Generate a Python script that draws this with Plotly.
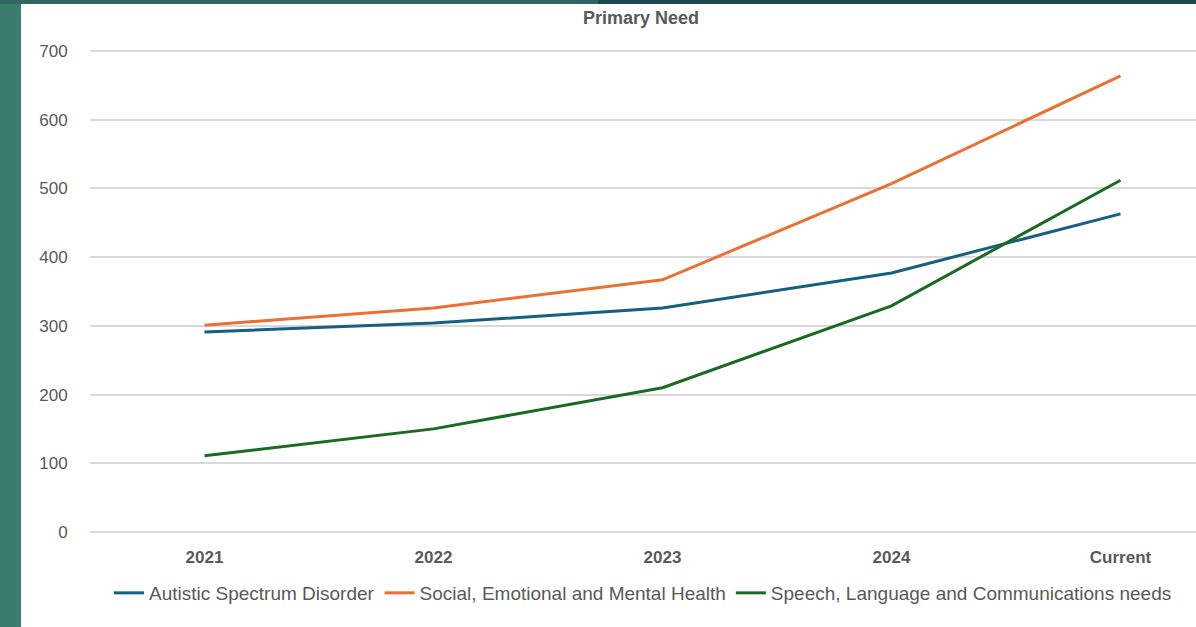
import plotly.graph_objects as go

categories = ["2021", "2022", "2023", "2024", "Current"]
autistic = [291, 304, 326, 377, 463]
semh = [301, 326, 367, 507, 664]
slcn = [111, 150, 210, 329, 512]

series_names = [
    "Autistic Spectrum Disorder",
    "Social, Emotional and Mental Health",
    "Speech, Language and Communications needs",
]
colors = ["#156082", "#E97132", "#196B24"]

W, H = 1196, 627
L, R, T, B = 90, 0, 49, 93
pw = W - L - R
ph = H - T - B

fig = go.Figure()
for name, vals, col in zip(series_names, [autistic, semh, slcn], colors):
    fig.add_trace(go.Scatter(
        x=categories, y=vals, mode="lines", name=name,
        line=dict(color=col, width=3),
    ))

def px_x(x):
    return (x - L) / pw

def px_y(y):
    return 1 - (y - T) / ph

shapes = [
    dict(type="rect", xref="paper", yref="paper", x0=px_x(0), x1=px_x(21),
         y0=px_y(H), y1=px_y(0), fillcolor="#3c7c6f", line=dict(width=0), layer="below"),
    dict(type="rect", xref="paper", yref="paper", x0=px_x(0), x1=px_x(W / 2),
         y0=px_y(4), y1=px_y(0), fillcolor="#2f6562", line=dict(width=0), layer="below"),
    dict(type="rect", xref="paper", yref="paper", x0=px_x(W / 2), x1=px_x(W),
         y0=px_y(4), y1=px_y(0), fillcolor="#1f4752", line=dict(width=0), layer="below"),
]

font_fam = "Liberation Sans, Arial, sans-serif"
fig.update_layout(
    width=W, height=H,
    margin=dict(l=L, r=R, t=T, b=B, pad=0),
    paper_bgcolor="white", plot_bgcolor="white",
    shapes=shapes,
    title=dict(text="<b>Primary Need</b>", x=px_x(641), xref="paper", xanchor="center",
               y=1 - 18 / H, yref="container", yanchor="middle",
               font=dict(family=font_fam, size=18, color="#595959")),
    font=dict(family=font_fam, color="#595959"),
    showlegend=True,
    legend=dict(orientation="h", x=0.5, xanchor="center", y=px_y(593), yanchor="middle",
                font=dict(family=font_fam, size=19, color="#595959"),
                itemwidth=30, tracegroupgap=0, bgcolor="rgba(0,0,0,0)"),
    xaxis=dict(range=[-0.5, -0.5 + pw / 229.0], showgrid=False, zeroline=False,
               showline=False, ticks="outside", ticklen=8, tickcolor="rgba(0,0,0,0)",
               tickfont=dict(family=font_fam, size=17, color="#595959", weight="bold"),
               fixedrange=True),
    yaxis=dict(range=[-3, 703], dtick=100, tick0=0, showgrid=True, gridcolor="#d9d9d9",
               gridwidth=1.5, zeroline=False, showline=False, ticks="outside", ticklen=18,
               tickcolor="rgba(0,0,0,0)",
               tickfont=dict(family=font_fam, size=17, color="#595959")),
)

fig.write_html("out.html")
